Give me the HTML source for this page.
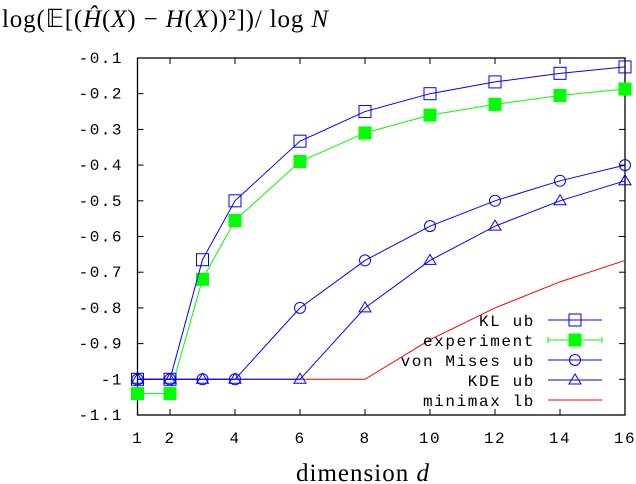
<!DOCTYPE html>
<html><head><meta charset="utf-8"><style>
body{margin:0;background:#fff;width:636px;height:484px;overflow:hidden}
svg{display:block}
.t{font-family:"Liberation Mono",monospace;font-size:16px;fill:#000}
.s{font-family:"Liberation Serif",serif;font-size:25px;fill:#000}
</style></head><body>
<svg id="chart" width="636" height="484"></svg>
<script>
const dims=[1,2,3,4,6,8,10,12,14,16];
const klUb=[-1,-1,-0.665,-0.5,-0.333,-0.25,-0.2,-0.167,-0.143,-0.125];
const experiment=[-1.04,-1.04,-0.72,-0.555,-0.39,-0.31,-0.26,-0.23,-0.205,-0.187];
const vonMisesUb=[-1,-1,-1,-1,-0.8,-0.667,-0.571,-0.5,-0.444,-0.4];
const kdeUb=[-1,-1,-1,-1,-1,-0.8,-0.667,-0.571,-0.5,-0.444];
const minimaxLb=[-1,-1,-1,-1,-1,-1,-0.889,-0.8,-0.727,-0.667];
const xTicks=[1,2,4,6,8,10,12,14,16];
const yTicks=[-0.1,-0.2,-0.3,-0.4,-0.5,-0.6,-0.7,-0.8,-0.9,-1,-1.1];
const yTickLabels=["-0.1","-0.2","-0.3","-0.4","-0.5","-0.6","-0.7","-0.8","-0.9","-1","-1.1"];
const L=137.5,R=625,T=58,B=415;
const X=v=>L+(v-1)/15*(R-L);
const Y=v=>T+(-0.1-v)/1.0*(B-T);
const svg=document.getElementById('chart');
const NS='http://www.w3.org/2000/svg';
function mk(tag,attrs,parent){const e=document.createElementNS(NS,tag);for(const k in attrs)e.setAttribute(k,attrs[k]);(parent||svg).appendChild(e);return e;}
let e=mk('text',{x:2,y:27,class:'s',textLength:'326',lengthAdjust:'spacing'});
e.innerHTML='log(𝔼[(<tspan font-style="italic">Ĥ</tspan>(<tspan font-style="italic">X</tspan>) − <tspan font-style="italic">H</tspan>(<tspan font-style="italic">X</tspan>))²])/ log <tspan font-style="italic">N</tspan>';


e=mk('text',{x:363,y:481,class:'s','text-anchor':'middle','font-size':'28','letter-spacing':'1'});e.innerHTML='dimension <tspan font-style="italic">d</tspan>';


e=mk('rect',{x:L,y:T,width:R-L,height:B-T,fill:'none',stroke:'#000','stroke-width':1.3});


xTicks.forEach(v=>{const x=X(v);
 mk('line',{x1:x,x2:x,y1:B,y2:B-6,stroke:'#000'});mk('line',{x1:x,x2:x,y1:T,y2:T+6,stroke:'#000'});
 const t=mk('text',{x:x,y:443,class:'t','text-anchor':'middle','letter-spacing':'1.5'});t.textContent=v;
 
 });
yTicks.forEach((v,i)=>{const y=Y(v);
 mk('line',{x1:L,x2:L+6,y1:y,y2:y,stroke:'#000'});mk('line',{x1:R,x2:R-6,y1:y,y2:y,stroke:'#000'});
 const t=mk('text',{x:123,y:y+5,class:'t','text-anchor':'end','letter-spacing':'1.5'});t.textContent=yTickLabels[i];
 
 });
function line(vals,color,name){const p=vals.map((v,i)=>X(dims[i])+','+Y(v)).join(' ');
 const l=mk('polyline',{points:p,fill:'none',stroke:color,'stroke-width':1});
 
 }
function marker(kind,x,y,g){
 if(kind==='sq')mk('rect',{x:x-6,y:y-6,width:12,height:12,fill:'none',stroke:'#00f'},g);
 if(kind==='fsq')mk('rect',{x:x-6.5,y:y-6.5,width:13,height:13,fill:'#0f0'},g);
 if(kind==='ci')mk('circle',{cx:x,cy:y,r:5.5,fill:'none',stroke:'#00f'},g);
 if(kind==='tr')mk('polygon',{points:`${x},${y-6} ${x-6},${y+4} ${x+6},${y+4}`,fill:'none',stroke:'#00f'},g);}
function pts(vals,kind,name){const g=mk('g',{});
 vals.forEach((v,i)=>marker(kind,X(dims[i]),Y(v),g));}
line(experiment,'#0f0','experiment-line');pts(experiment,'fsq','experiment-points');
line(minimaxLb,'#f00','minimax-lb-line');
line(klUb,'#00f','kl-ub-line');pts(klUb,'sq','kl-ub-points');
line(vonMisesUb,'#00f','von-mises-ub-line');pts(vonMisesUb,'ci','von-mises-ub-points');
line(kdeUb,'#00f','kde-ub-line');pts(kdeUb,'tr','kde-ub-points');
const leg=[['KL ub','#00f','sq'],['experiment','#0f0','fsq'],['von Mises ub','#00f','ci'],['KDE ub','#00f','tr'],['minimax lb','#f00','']];
const lg=mk('g',{});
leg.forEach((d,i)=>{const y=320+i*20;const g=mk('g',{},lg);
 
 
 const t=mk('text',{x:535,y:y+6,class:'t','text-anchor':'end','font-size':'17','letter-spacing':'1.6'},g);t.textContent=d[0];
 mk('line',{x1:548,x2:602,y1:y,y2:y,stroke:d[1]},g);
 if(d[2]==='fsq'){mk('line',{x1:548,x2:548,y1:y-3,y2:y+3,stroke:d[1]},g);mk('line',{x1:602,x2:602,y1:y-3,y2:y+3,stroke:d[1]},g);}
 if(d[2])marker(d[2],575,y,g);});
</script>
</body></html>
